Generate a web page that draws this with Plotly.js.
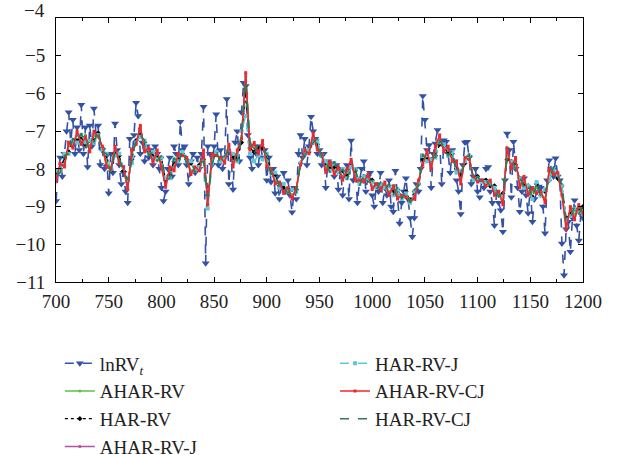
<!DOCTYPE html>
<html>
<head>
<meta charset="utf-8">
<script src="https://cdn.plot.ly/plotly-3.0.1.min.js"></script>
<style>html,body{margin:0;padding:0;background:#fff;}#chart{width:617px;height:455px;}</style>
</head>
<body>
<div id="chart"></div>
<script>
// x positions: lnRV every 2 days, model forecasts every 4 days (700..1200)
const START = 700, END = 1200;
const xDaily2 = []; for (let v = START; v <= END; v += 2) xDaily2.push(v);
const xDaily4 = []; for (let v = START; v <= END; v += 4) xDaily4.push(v);

const lnRV = [
 -8.85,-8.1,-7.7,-8.2,-7.6,-7.0,-6.5,-7.3,-6.7,-7.6,-6.9,-7.5,-6.3,-7.6,-6.9,-7.95,-6.85,-7.4,-6.4,-7.1,-6.85,-7.9,-7.5,-8.0,-7.6,-8.65,
 -7.6,-8.1,-6.8,-7.5,-7.9,-8.4,-8.1,-8.6,-8.9,-7.2,-7.7,-7.1,-6.25,-6.6,-7.6,-7.3,-7.8,-7.4,-7.7,-7.5,-7.9,-7.4,-7.6,-8.0,-8.5,
 -8.85,-8.6,-8.0,-7.7,-8.2,-7.4,-7.6,-7.9,-6.75,-7.5,-7.4,-7.9,-8.4,-7.8,-7.6,-8.1,-7.7,-8.0,-7.6,-6.35,-10.5,-7.4,-7.6,-7.9,-7.4,
 -6.55,-7.9,-7.5,-8.0,-7.7,-6.15,-8.4,-7.6,-8.55,-7.3,-7.0,-7.8,-6.5,-5.72,-5.8,-7.1,-7.7,-8.0,-7.4,-7.6,-7.9,-7.4,-7.7,-7.5,-8.3,
 -7.7,-8.35,-8.0,-8.65,-8.2,-8.8,-8.4,-8.1,-8.6,-8.3,-8.7,-9.15,-8.5,-8.8,-7.6,-7.1,-7.7,-7.2,-7.9,-7.4,-6.62,-7.0,-7.2,-7.6,-7.5,
 -7.9,-7.6,-8.5,-7.8,-8.0,-7.85,-8.2,-7.9,-8.55,-8.0,-8.7,-8.1,-7.9,-8.8,-7.25,-8.3,-8.0,-8.9,-8.3,-8.0,-7.8,-8.6,-8.2,-8.1,-8.7,
 -9.0,-8.4,-8.6,-8.1,-8.9,-8.5,-8.7,-8.3,-9.0,-9.14,-8.05,-8.7,-9.45,-8.9,-8.6,-8.25,-8.8,-9.3,-9.8,-9.3,-8.4,-8.6,-8.0,-6.07,-6.7,
 -7.5,-7.37,-8.5,-7.6,-7.33,-6.97,-7.3,-8.4,-7.24,-7.28,-7.6,-8.1,-7.5,-7.8,-8.3,-8.6,-9.2,-7.9,-7.3,-7.28,-7.7,-8.4,-8.2,-8.0,-8.6,
 -8.75,-8.3,-8.5,-8.0,-7.95,-8.6,-8.9,-9.5,-8.6,-8.9,-9.1,-9.67,-8.3,-7.06,-7.5,-8.75,-7.28,-8.0,-8.5,-9.14,-8.6,-8.25,-8.7,-9.18,-8.5,
 -9.4,-8.8,-8.6,-8.47,-8.5,-9.0,-9.71,-8.3,-7.77,-8.0,-8.2,-7.72,-8.2,-8.3,-9.98,-10.82,-9.6,-9.4,-10.2,-9.3,-8.83,-9.5,-9.9,-9.2,-9.3
];

const aharRV = [
 -8.2,-7.95,-7.85,-7.4,-7.35,-7.1,-7.25,-7.1,-7.45,-7.1,
 -7.05,-7.5,-7.8,-8.05,-7.45,-7.75,-8.0,-8.5,-7.6,-7.3,
 -6.95,-7.45,-7.5,-7.75,-7.6,-7.85,-8.4,-8.05,-7.95,-7.7,
 -7.6,-7.75,-8.05,-8.0,-7.95,-7.6,-8.85,-7.7,-7.6,-7.75,
 -7.75,-7.4,-7.8,-7.6,-7.15,-5.55,-7.4,-7.4,-7.5,-7.35,
 -7.8,-8.05,-8.3,-8.4,-8.55,-8.55,-8.7,-8.55,-7.85,-7.55,
 -7.55,-7.15,-7.4,-7.65,-7.95,-7.9,-8.05,-8.0,-8.2,-8.1,
 -7.85,-8.2,-8.35,-8.25,-8.25,-8.45,-8.45,-8.45,-8.45,-8.6,
 -8.55,-8.7,-8.75,-8.65,-8.85,-8.7,-8.35,-7.8,-7.6,-7.9,
 -7.5,-7.2,-7.45,-7.5,-7.7,-7.9,-8.3,-7.75,-7.7,-8.25,
 -8.3,-8.35,-8.4,-8.35,-8.6,-8.65,-8.8,-7.55,-7.9,-7.8,
 -8.4,-8.3,-8.6,-8.6,-8.5,-8.65,-8.8,-8.1,-8.05,-8.15,
 -8.6,-9.5,-9.1,-9.2,-9.0,-9.1
];

const harRV = [
 -8.1,-8.0,-7.7,-7.55,-7.25,-7.25,-7.15,-7.35,-7.25,-7.25,
 -7.05,-7.45,-7.65,-8.05,-7.6,-7.65,-8.05,-8.3,-7.75,-7.25,
 -7.1,-7.3,-7.55,-7.6,-7.7,-7.7,-8.3,-8.15,-7.8,-7.75,
 -7.6,-7.75,-7.85,-8.05,-7.9,-7.75,-8.7,-7.85,-7.55,-7.75,
 -7.7,-7.5,-7.7,-7.7,-7.3,-6.0,-7.45,-7.55,-7.45,-7.45,
 -7.65,-8.05,-8.15,-8.45,-8.5,-8.55,-8.55,-8.55,-7.85,-7.6,
 -7.55,-7.3,-7.35,-7.65,-7.85,-8.0,-7.95,-8.05,-8.05,-8.2,
 -7.9,-8.05,-8.35,-8.2,-8.3,-8.3,-8.45,-8.4,-8.5,-8.45,
 -8.6,-8.55,-8.75,-8.6,-8.85,-8.6,-8.4,-7.75,-7.75,-7.75,
 -7.65,-7.35,-7.4,-7.6,-7.6,-8.0,-8.15,-7.85,-7.65,-8.3,
 -8.2,-8.35,-8.3,-8.45,-8.45,-8.7,-8.65,-7.75,-7.8,-7.9,
 -8.25,-8.45,-8.45,-8.75,-8.4,-8.7,-8.6,-8.3,-8.0,-8.25,
 -8.45,-9.3,-9.2,-9.05,-9.1,-9.0
];

const aharRVJ = [
 -8.35,-7.9,-7.9,-7.35,-7.4,-7.05,-7.3,-7.2,-7.5,-7.05,
 -7.1,-7.45,-7.9,-8.05,-7.45,-7.8,-8.0,-8.5,-7.55,-7.3,
 -6.9,-7.5,-7.5,-7.8,-7.55,-7.9,-8.5,-8.0,-8.0,-7.65,
 -7.6,-7.75,-8.1,-8.0,-8.0,-7.55,-8.9,-7.65,-7.6,-7.75,
 -7.8,-7.4,-7.9,-7.55,-7.15,-5.5,-7.45,-7.35,-7.55,-7.3,
 -7.9,-8.05,-8.35,-8.4,-8.6,-8.55,-8.75,-8.55,-7.85,-7.55,
 -7.55,-7.1,-7.45,-7.65,-8.05,-7.85,-8.1,-8.0,-8.25,-8.05,
 -7.8,-8.25,-8.35,-8.3,-8.2,-8.5,-8.45,-8.5,-8.4,-8.65,
 -8.5,-8.75,-8.75,-8.7,-8.85,-8.75,-8.35,-7.85,-7.55,-7.95,
 -7.45,-7.15,-7.5,-7.45,-7.75,-7.85,-8.35,-7.75,-7.7,-8.25,
 -8.3,-8.35,-8.4,-8.35,-8.65,-8.6,-8.9,-7.5,-7.95,-7.75,
 -8.45,-8.25,-8.65,-8.55,-8.6,-8.65,-8.85,-8.05,-8.1,-8.15,
 -8.65,-9.55,-9.05,-9.3,-9.0,-9.15
];

const harRVJ = [
 -8.05,-8.05,-7.6,-7.6,-7.25,-7.3,-7.1,-7.3,-7.25,-7.3,
 -7.1,-7.5,-7.6,-8.0,-7.65,-7.6,-7.95,-8.3,-7.85,-7.3,
 -7.15,-7.25,-7.6,-7.55,-7.75,-7.7,-8.25,-8.25,-7.75,-7.8,
 -7.55,-7.8,-7.8,-8.05,-7.95,-7.8,-9.05,-7.85,-7.55,-7.8,
 -7.7,-7.5,-7.6,-7.8,-7.0,-6.6,-7.6,-7.8,-7.65,-7.75,
 -7.6,-8.1,-8.1,-8.5,-8.4,-8.6,-8.55,-8.6,-7.85,-7.6,
 -7.5,-7.3,-7.25,-7.65,-7.8,-8.05,-7.85,-8.1,-8.0,-8.25,
 -7.95,-8.0,-8.4,-8.2,-8.3,-8.35,-8.5,-8.4,-8.5,-8.45,
 -8.7,-8.55,-8.8,-8.65,-8.9,-8.6,-8.4,-7.65,-7.8,-7.75,
 -7.7,-7.3,-7.35,-7.65,-7.55,-8.1,-8.05,-7.8,-7.65,-8.3,
 -8.25,-8.35,-8.35,-8.4,-8.5,-8.7,-8.75,-7.65,-7.8,-7.95,
 -8.25,-8.5,-8.45,-8.8,-8.35,-8.7,-8.55,-8.3,-8.0,-8.15,
 -8.45,-9.35,-9.25,-9.05,-9.15,-9.2
];

const aharRVCJ = [
 -8.3,-7.85,-7.95,-7.3,-7.45,-7.0,-7.35,-7.15,-7.55,-7.0,
 -7.15,-7.4,-7.95,-8.0,-7.4,-7.85,-7.95,-8.55,-7.5,-7.35,
 -6.85,-7.55,-7.45,-7.85,-7.5,-7.95,-8.45,-7.95,-8.05,-7.6,
 -7.65,-7.7,-8.15,-7.95,-8.05,-7.5,-8.95,-7.6,-7.65,-7.7,
 -7.85,-7.35,-7.95,-7.5,-7.2,-5.45,-7.5,-7.3,-7.6,-7.25,
 -7.95,-8.0,-8.4,-8.35,-8.65,-8.5,-8.8,-8.5,-7.9,-7.5,
 -7.6,-7.05,-7.5,-7.6,-8.1,-7.8,-8.15,-7.95,-8.3,-8.0,
 -7.75,-8.3,-8.3,-8.35,-8.15,-8.55,-8.4,-8.55,-8.35,-8.7,
 -8.45,-8.8,-8.7,-8.75,-8.85,-8.8,-8.3,-7.9,-7.5,-8.0,
 -7.4,-7.1,-7.55,-7.4,-7.8,-7.8,-8.4,-7.7,-7.75,-8.2,
 -8.35,-8.3,-8.45,-8.3,-8.7,-8.6,-8.95,-7.45,-8.0,-7.7,
 -8.5,-8.2,-8.7,-8.5,-8.65,-8.6,-8.9,-8.0,-8.15,-8.1,
 -8.7,-9.6,-9.0,-9.35,-8.95,-9.2
];

const harRVCJ = [
 -8.15,-8.1,-7.65,-7.6,-7.2,-7.3,-7.05,-7.45,-7.2,-7.3,
 -6.95,-7.55,-7.6,-8.1,-7.55,-7.7,-8.1,-8.3,-7.8,-7.2,
 -7.1,-7.25,-7.65,-7.55,-7.8,-7.65,-8.3,-8.25,-7.7,-7.9,
 -7.5,-7.85,-7.8,-8.1,-7.85,-7.8,-8.75,-7.9,-7.5,-7.85,
 -7.65,-7.5,-7.65,-7.8,-7.1,-5.65,-7.25,-7.6,-7.35,-7.5,
 -7.6,-8.15,-8.1,-8.5,-8.45,-8.65,-8.5,-8.65,-7.8,-7.65,
 -7.45,-7.3,-7.2,-7.7,-7.8,-8.1,-7.8,-8.15,-8.0,-8.3,
 -7.95,-8.0,-8.45,-8.15,-8.35,-8.3,-8.55,-8.35,-8.55,-8.4,
 -8.7,-8.5,-8.8,-8.6,-8.9,-8.55,-8.45,-7.6,-7.8,-7.7,
 -7.7,-7.25,-7.4,-7.65,-7.5,-8.1,-8.1,-7.85,-7.6,-8.35,
 -8.2,-8.4,-8.3,-8.45,-8.45,-8.75,-8.6,-7.7,-7.75,-8.0,
 -8.2,-8.5,-8.4,-8.8,-8.35,-8.75,-8.6,-8.3,-7.95,-8.2,
 -8.4,-9.4,-9.3,-9.0,-9.2,-8.95
];

const xTickVals = [700,750,800,850,900,950,1000,1050,1100,1150,1200];
const yTickVals = [-4,-5,-6,-7,-8,-9,-10,-11];
const yTickText = ['','−5','−6','−7','−8','−9','−10','−11'];
const yTopLabel = '−4';

const FONT = "Liberation Serif, Times New Roman, serif";

const traces = [
  {name:'lnRV<sub><i>t</i></sub>', x:xDaily2, y:lnRV, mode:'lines+markers', legend:'legend',
   line:{color:'#3352a5', width:1.6, dash:'dash'}, marker:{symbol:'triangle-down', size:7, color:'#3352a5'}},
  {name:'AHAR-RV', x:xDaily4, y:aharRV, mode:'lines+markers', legend:'legend',
   line:{color:'#5fbf45', width:1.5}, marker:{symbol:'circle', size:3, color:'#5fbf45'}},
  {name:'HAR-RV', x:xDaily4, y:harRV, mode:'lines+markers', legend:'legend',
   line:{color:'#000000', width:1.2, dash:'dot'}, marker:{symbol:'diamond', size:4, color:'#000000'}},
  {name:'AHAR-RV-J', x:xDaily4, y:aharRVJ, mode:'lines+markers', legend:'legend',
   line:{color:'#b4509e', width:1.5}, marker:{symbol:'circle', size:3, color:'#b4509e'}},
  {name:'HAR-RV-J', x:xDaily4, y:harRVJ, mode:'lines+markers', legend:'legend2',
   line:{color:'#5cc8da', width:1.5, dash:'dash'}, marker:{symbol:'square', size:4, color:'#5cc8da'}},
  {name:'AHAR-RV-CJ', x:xDaily4, y:aharRVCJ, mode:'lines+markers', legend:'legend2',
   line:{color:'#f02828', width:1.5}, marker:{symbol:'square', size:3, color:'#f02828'}},
  {name:'HAR-RV-CJ', x:xDaily4, y:harRVCJ, mode:'lines', legend:'legend2',
   line:{color:'#2a7d50', width:1.5, dash:'dash'}}
];

const legendBase = {
  orientation:'v', xref:'container', yref:'container', xanchor:'left', yanchor:'top',
  font:{family:FONT, size:19, color:'#222'}, bgcolor:'rgba(0,0,0,0)', tracegroupgap:0,
  itemwidth:30
};

const layout = {
  width:617, height:455,
  margin:{l:56, r:34, t:18, b:173, autoexpand:false},
  paper_bgcolor:'#fff', plot_bgcolor:'#fff',
  font:{family:FONT, size:19, color:'#222'},
  showlegend:true,
  legend:Object.assign({}, legendBase, {x:0.097, y:0.243}),
  legend2:Object.assign({}, legendBase, {x:0.543, y:0.243}),
  xaxis:{range:[700,1200], tickvals:xTickVals, ticks:'inside', ticklen:5, tickcolor:'#000',
    showline:true, linecolor:'#000', linewidth:1, mirror:'ticks', showgrid:false, zeroline:false,
    ticklabelstandoff:2, automargin:false,
    minor:{dtick:25, tick0:700, ticks:'inside', ticklen:3, tickcolor:'#000', showgrid:false},
    tickfont:{family:FONT, size:19, color:'#222'}},
  yaxis:{range:[-11,-4], tickvals:yTickVals, ticktext:yTickText, ticks:'inside', ticklen:5, tickcolor:'#000',
    showline:true, linecolor:'#000', linewidth:1, mirror:'ticks', showgrid:false, zeroline:false,
    ticklabelstandoff:6, automargin:false,
    tickfont:{family:FONT, size:19, color:'#222'}},
  annotations:[{text:yTopLabel, xref:'paper', yref:'y', x:0, y:yTickVals[0], xanchor:'right', yanchor:'middle',
    xshift:-9, yshift:8, showarrow:false, font:{family:FONT, size:19, color:'#222'}}]
};

Plotly.newPlot('chart', traces, layout, {displayModeBar:false, staticPlot:true});
</script>
</body>
</html>
